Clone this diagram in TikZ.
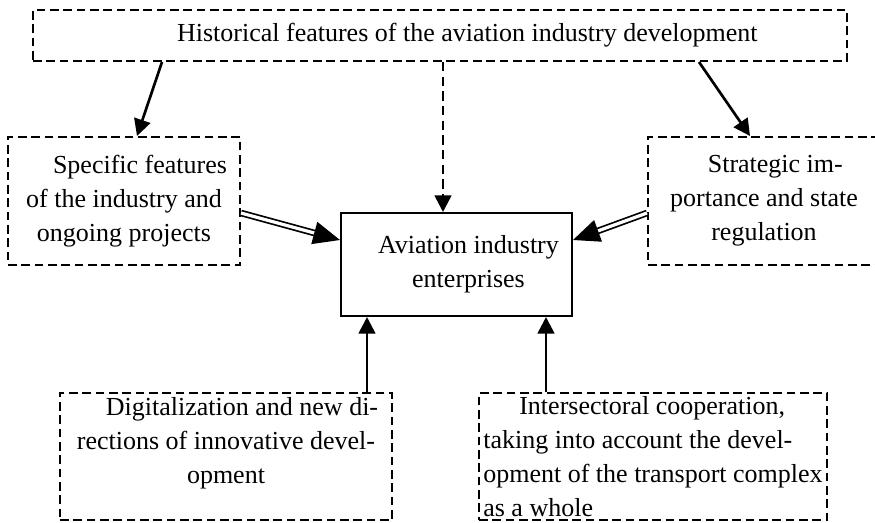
\documentclass[tikz,border=0pt]{standalone}
\usepackage{fontspec}
\setmainfont{Liberation Serif}
\usetikzlibrary{arrows.meta}

\tikzset{
  txt/.style={font=\fontsize{19.5pt}{25.5pt}\selectfont, inner sep=0pt, align=center},
  factor/.style={txt, draw, dash pattern=on 6.5pt off 3.5pt, line width=1.5pt},
  core/.style={txt, draw, line width=1.5pt},
  arr/.style={line width=2pt, -{Triangle[length=12.5pt,width=12.5pt]}},
  dblarr/.style={double, double distance=2.4pt, line width=1.3pt, -{Triangle[length=20pt,width=17pt]}},
}

\begin{document}
\begin{tikzpicture}[x=0.75pt, y=-0.75pt]
    \useasboundingbox (0,0) rectangle (875,522);
    \clip (0,0) rectangle (875,522);

    \node[factor, minimum width=610.5pt, minimum height=38.25pt] (hist) at (440,35.5)
        {\hspace*{41pt}Historical features of the aviation industry development};
    \node[factor, minimum width=174pt, minimum height=96pt] (spec) at (124,201)
        {\hspace*{24pt}Specific features\\of the industry and\\ongoing projects};
    \node[factor, minimum width=174pt, minimum height=96pt] (strat) at (764,201)
        {\hspace*{17pt}Strategic im-\\portance and state\\regulation};
    \node[core, minimum width=173.25pt, minimum height=77.25pt] (ent) at (456.5,264.5)
        {\hspace*{18pt}Aviation industry\\\hspace*{18pt}enterprises};
    \node[factor, minimum width=249pt, minimum height=95.25pt, text depth=24.4pt] (digit) at (226,456.5)
        {\hspace*{24pt}Digitalization and new di-\\rections of innovative devel-\\opment};
    \node[factor, align=left, minimum width=261pt, minimum height=95.25pt] (inter) at (653,456.5)
        {\hspace*{27pt}Intersectoral cooperation,\\taking into account the devel-\\opment of the transport complex\\as a whole};

    \draw[arr] (hist.south -| 162,0) -- (spec.north -| 137,0);
    \draw[arr] (hist.south -| 699,0) -- (strat.north -| 750,0);
    \draw[arr, dash pattern=on 7pt off 4pt] (hist.south -| 443,0) -- (ent.north -| 443,0);
    \draw[dblarr] (spec.east |- 0,213) -- (ent.west |- 0,240);
    \draw[dblarr] (strat.west |- 0,213) -- (ent.east |- 0,240);
    \draw[arr] (digit.north -| 367,0) -- (ent.south -| 367,0);
    \draw[arr] (inter.north -| 546,0) -- (ent.south -| 546,0);
        \end{tikzpicture}
\end{document}
